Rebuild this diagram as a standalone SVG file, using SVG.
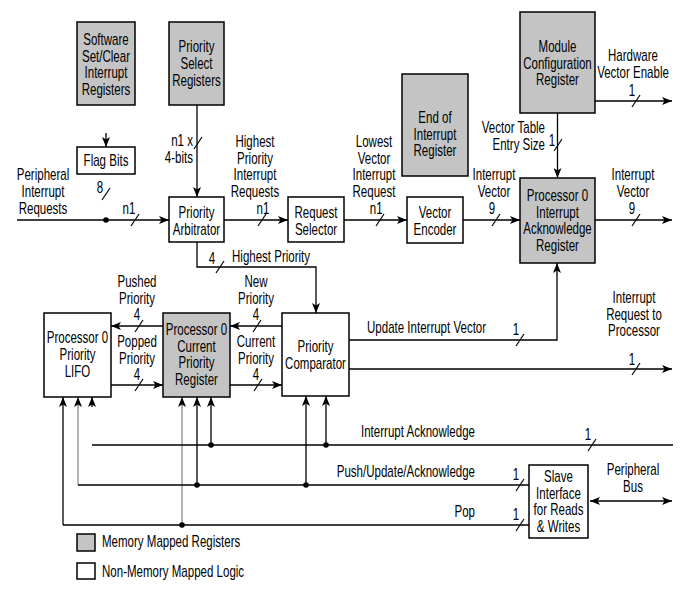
<svg xmlns="http://www.w3.org/2000/svg" xmlns:xlink="http://www.w3.org/1999/xlink" width="695" height="600" viewBox="0 0 695 600">
<style>
.box{stroke:#000;stroke-width:1.5;fill:#fff}
.reg{fill:#c4c4c4}
.ln{stroke:#000;stroke-width:1.3;fill:none}
.gr{stroke:#8a8a8a}
.ar{marker-end:url(#ah)}
.ar2{marker-start:url(#ah);marker-end:url(#ah)}
.t{font-family:"Liberation Sans",Arial,sans-serif;font-size:16px;fill:#000}
.m{text-anchor:middle}
.e{text-anchor:end}
</style>
<defs>
<marker id="ah" viewBox="0 0 10 8" refX="10" refY="4" markerWidth="10" markerHeight="8" orient="auto-start-reverse" markerUnits="userSpaceOnUse">
<path d="M0,0 L10,4 L0,8 L2.5,4 z" fill="#000"/>
</marker>
<path id="sl" d="M-4,6 L4,-6" stroke="#000" stroke-width="1.2" fill="none"/>
</defs>
<rect width="695" height="600" fill="#fff"/>

<g id="connectors">
<path class="ln ar" d="M17,220 H169"/>
<circle cx="106" cy="220" r="2.8"/>
<use xlink:href="#sl" x="135" y="220"/>
<use xlink:href="#sl" x="106" y="194"/>
<path class="ln ar" d="M106,133 V147"/>
<path class="ln ar" d="M197,105 V197"/>
<use xlink:href="#sl" x="198" y="143"/>
<path class="ln ar" d="M224,220 H288"/>
<use xlink:href="#sl" x="262" y="220"/>
<path class="ln ar" d="M344,220 H407"/>
<use xlink:href="#sl" x="380" y="220"/>
<path class="ln ar" d="M463,220 H520"/>
<use xlink:href="#sl" x="496" y="220"/>
<path class="ln ar" d="M595,101 H672"/>
<use xlink:href="#sl" x="636" y="101"/>
<path class="ln ar" d="M557.5,113 V178"/>
<use xlink:href="#sl" x="558" y="145"/>
<path class="ln ar" d="M595,220 H672"/>
<use xlink:href="#sl" x="636" y="220"/>
<path class="ln ar" d="M197,242 V267 H316 V313"/>
<use xlink:href="#sl" x="220" y="267"/>
<path class="ln ar" d="M163,326 H111"/>
<use xlink:href="#sl" x="139" y="326"/>
<path class="ln ar" d="M111,385 H163"/>
<use xlink:href="#sl" x="139" y="385"/>
<path class="ln ar" d="M282,326 H230"/>
<use xlink:href="#sl" x="257" y="326"/>
<path class="ln ar" d="M230,385 H282"/>
<use xlink:href="#sl" x="258" y="385"/>
<path class="ln ar" d="M349,340 H557 V263"/>
<use xlink:href="#sl" x="520" y="340"/>
<path class="ln ar" d="M349,369 H672"/>
<use xlink:href="#sl" x="636" y="369"/>
<path class="ln ar" d="M63,525 V397"/>
<path class="ln gr ar" d="M78,485 V397"/>
<path class="ln ar" d="M92,407 V397"/>
<path class="ln gr ar" d="M182,525 V397"/>
<path class="ln ar" d="M197,485 V397"/>
<path class="ln ar" d="M211,445 V397"/>
<path class="ln ar" d="M306,485 V396"/>
<path class="ln ar" d="M326,445 V396"/>
<path class="ln" d="M92,445 H673"/>
<use xlink:href="#sl" x="592" y="445"/>
<path class="ln" d="M78,485 H529"/>
<use xlink:href="#sl" x="520" y="485"/>
<path class="ln" d="M63,525 H529"/>
<use xlink:href="#sl" x="520" y="525"/>
<circle cx="211" cy="445" r="2.8"/>
<circle cx="326" cy="445" r="2.8"/>
<circle cx="197" cy="485" r="2.8"/>
<circle cx="306" cy="485" r="2.8"/>
<circle cx="182" cy="525" r="2.8"/>
<path class="ln ar2" d="M590,501 H672"/>
</g>

<g id="software-set-clear">
<rect class="box reg" x="77" y="22" width="58" height="83"/>
<text class="t m" transform="translate(106,45) scale(.72 1)"><tspan x="0">Software</tspan><tspan x="0" dy="16.7">Set/Clear</tspan><tspan x="0" dy="16.7">Interrupt</tspan><tspan x="0" dy="16.7">Registers</tspan></text>
</g>
<g id="priority-select">
<rect class="box reg" x="169" y="22" width="55" height="83"/>
<text class="t m" transform="translate(196.5,52) scale(.72 1)"><tspan x="0">Priority</tspan><tspan x="0" dy="17">Select</tspan><tspan x="0" dy="17">Registers</tspan></text>
</g>
<g id="flag-bits">
<rect class="box" x="77" y="147" width="58" height="27"/>
<text class="t m" transform="translate(106,166) scale(.72 1)">Flag Bits</text>
</g>
<g id="priority-arbitrator">
<rect class="box" x="169" y="197" width="55" height="45"/>
<text class="t m" transform="translate(196.5,218) scale(.72 1)"><tspan x="0">Priority</tspan><tspan x="0" dy="17">Arbitrator</tspan></text>
</g>
<g id="request-selector">
<rect class="box" x="288" y="197" width="56" height="45"/>
<text class="t m" transform="translate(316,218) scale(.72 1)"><tspan x="0">Request</tspan><tspan x="0" dy="17">Selector</tspan></text>
</g>
<g id="vector-encoder">
<rect class="box" x="407" y="197" width="56" height="46"/>
<text class="t m" transform="translate(435,218) scale(.72 1)"><tspan x="0">Vector</tspan><tspan x="0" dy="17">Encoder</tspan></text>
</g>
<g id="end-of-interrupt">
<rect class="box reg" x="402" y="74" width="66" height="102"/>
<text class="t m" transform="translate(435,123) scale(.72 1)"><tspan x="0">End of</tspan><tspan x="0" dy="16.7">Interrupt</tspan><tspan x="0" dy="16.7">Register</tspan></text>
</g>
<g id="module-config">
<rect class="box reg" x="520" y="12" width="75" height="101"/>
<text class="t m" transform="translate(557.5,52) scale(.72 1)"><tspan x="0">Module</tspan><tspan x="0" dy="16.7">Configuration</tspan><tspan x="0" dy="16.7">Register</tspan></text>
</g>
<g id="interrupt-ack-register">
<rect class="box reg" x="520" y="178" width="75" height="85"/>
<text class="t m" transform="translate(557.5,201) scale(.72 1)"><tspan x="0">Processor 0</tspan><tspan x="0" dy="16.7">Interrupt</tspan><tspan x="0" dy="16.7">Acknowledge</tspan><tspan x="0" dy="16.7">Register</tspan></text>
</g>
<g id="priority-lifo">
<rect class="box" x="44" y="313" width="67" height="84"/>
<text class="t m" transform="translate(77.5,343) scale(.72 1)"><tspan x="0">Processor 0</tspan><tspan x="0" dy="17">Priority</tspan><tspan x="0" dy="17">LIFO</tspan></text>
</g>
<g id="current-priority-register">
<rect class="box reg" x="163" y="313" width="67" height="84"/>
<text class="t m" transform="translate(196.5,335) scale(.72 1)"><tspan x="0">Processor 0</tspan><tspan x="0" dy="16.7">Current</tspan><tspan x="0" dy="16.7">Priority</tspan><tspan x="0" dy="16.7">Register</tspan></text>
</g>
<g id="priority-comparator">
<rect class="box" x="282" y="313" width="67" height="83"/>
<text class="t m" transform="translate(315.5,352) scale(.72 1)"><tspan x="0">Priority</tspan><tspan x="0" dy="16.7">Comparator</tspan></text>
</g>
<g id="slave-interface">
<rect class="box" x="529" y="465" width="59" height="73"/>
<text class="t m" transform="translate(558.5,482) scale(.72 1)"><tspan x="0">Slave</tspan><tspan x="0" dy="16.7">Interface</tspan><tspan x="0" dy="16.7">for Reads</tspan><tspan x="0" dy="16.7">&amp; Writes</tspan></text>
</g>

<g id="labels">
<text class="t m" transform="translate(43,180) scale(.72 1)"><tspan x="0">Peripheral</tspan><tspan x="0" dy="17">Interrupt</tspan><tspan x="0" dy="17">Requests</tspan></text>
<text class="t m" transform="translate(100,193) scale(.72 1)">8</text>
<text class="t m" transform="translate(129,214) scale(.72 1)">n1</text>
<text class="t e" transform="translate(193,146) scale(.72 1)"><tspan x="0">n1 x</tspan><tspan x="0" dy="16.7">4-bits</tspan></text>
<text class="t m" transform="translate(255,147) scale(.72 1)"><tspan x="0">Highest</tspan><tspan x="0" dy="16.7">Priority</tspan><tspan x="0" dy="16.7">Interrupt</tspan><tspan x="0" dy="16.7">Requests</tspan><tspan x="11" dy="16.7">n1</tspan></text>
<text class="t m" transform="translate(374,147) scale(.72 1)"><tspan x="0">Lowest</tspan><tspan x="0" dy="16.7">Vector</tspan><tspan x="0" dy="16.7">Interrupt</tspan><tspan x="0" dy="16.7">Request</tspan><tspan x="3" dy="16.7">n1</tspan></text>
<text class="t m" transform="translate(494,180) scale(.72 1)"><tspan x="0">Interrupt</tspan><tspan x="0" dy="17">Vector</tspan><tspan x="-3" dy="17">9</tspan></text>
<text class="t m" transform="translate(633,61) scale(.72 1)"><tspan x="0">Hardware</tspan><tspan x="0" dy="16.7">Vector Enable</tspan><tspan x="-1.5" dy="18.3">1</tspan></text>
<text class="t e" transform="translate(545,133) scale(.72 1)"><tspan x="0">Vector Table</tspan><tspan x="0" dy="17">Entry Size</tspan></text>
<text class="t m" transform="translate(552,146) scale(.72 1)">1</text>
<text class="t m" transform="translate(633,180) scale(.72 1)"><tspan x="0">Interrupt</tspan><tspan x="0" dy="17">Vector</tspan><tspan x="-1.5" dy="17">9</tspan></text>
<text class="t" transform="translate(232,262) scale(.72 1)">Highest Priority</text>
<text class="t m" transform="translate(212,264) scale(.72 1)">4</text>
<text class="t m" transform="translate(137,287) scale(.72 1)"><tspan x="0">Pushed</tspan><tspan x="0" dy="16.7">Priority</tspan><tspan x="0" dy="16.7">4</tspan></text>
<text class="t m" transform="translate(137,347) scale(.72 1)"><tspan x="0">Popped</tspan><tspan x="0" dy="16.7">Priority</tspan><tspan x="0" dy="16.7">4</tspan></text>
<text class="t m" transform="translate(256,287) scale(.72 1)"><tspan x="0">New</tspan><tspan x="0" dy="16.7">Priority</tspan><tspan x="0" dy="16.7">4</tspan></text>
<text class="t m" transform="translate(256,347) scale(.72 1)"><tspan x="0">Current</tspan><tspan x="0" dy="16.7">Priority</tspan><tspan x="0" dy="16.7">4</tspan></text>
<text class="t" transform="translate(367,333) scale(.72 1)">Update Interrupt Vector</text>
<text class="t m" transform="translate(516,335) scale(.72 1)">1</text>
<text class="t m" transform="translate(634,303) scale(.72 1)"><tspan x="0">Interrupt</tspan><tspan x="0" dy="16.7">Request to</tspan><tspan x="0" dy="16.7">Processor</tspan></text>
<text class="t m" transform="translate(632,365) scale(.72 1)">1</text>
<text class="t" transform="translate(361,437) scale(.72 1)">Interrupt Acknowledge</text>
<text class="t m" transform="translate(588,440) scale(.72 1)">1</text>
<text class="t e" transform="translate(475,477) scale(.72 1)">Push/Update/Acknowledge</text>
<text class="t m" transform="translate(516,480) scale(.72 1)">1</text>
<text class="t e" transform="translate(475,517) scale(.72 1)">Pop</text>
<text class="t m" transform="translate(516,520) scale(.72 1)">1</text>
<text class="t m" transform="translate(633,475) scale(.72 1)"><tspan x="0">Peripheral</tspan><tspan x="0" dy="16.7">Bus</tspan></text>
</g>

<g id="legend">
<rect class="box reg" x="77" y="534" width="18" height="17"/>
<text class="t" transform="translate(102,547) scale(.72 1)">Memory Mapped Registers</text>
<rect class="box" x="77" y="563" width="18" height="16"/>
<text class="t" transform="translate(102,577) scale(.72 1)">Non-Memory Mapped Logic</text>
</g>
</svg>
